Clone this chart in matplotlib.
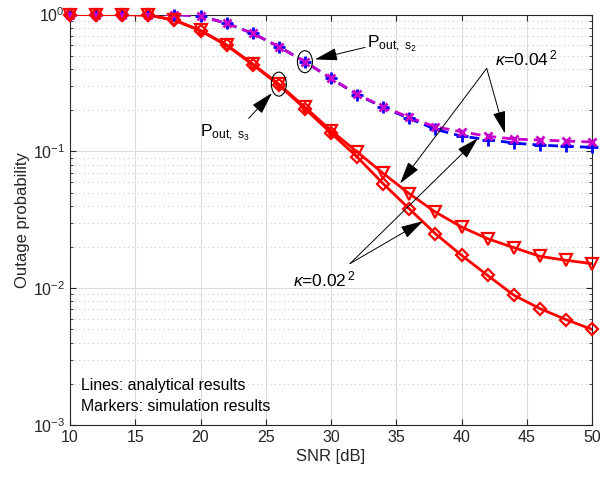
import numpy as np
import matplotlib
matplotlib.use("Agg")
import matplotlib.pyplot as plt
from matplotlib.patches import Ellipse
from matplotlib.transforms import ScaledTranslation
from matplotlib.ticker import LogLocator, FixedLocator, FuncFormatter, NullFormatter

plt.rcParams['font.family'] = ['Liberation Sans', 'DejaVu Sans']
plt.rcParams['mathtext.fontset'] = 'custom'
plt.rcParams['mathtext.rm'] = 'Liberation Sans'
plt.rcParams['mathtext.it'] = 'Liberation Sans:italic'
plt.rcParams['mathtext.bf'] = 'Liberation Sans:bold'

# SNR grid (dB)
snr = [10, 12, 14, 16, 18, 20, 22, 24, 26, 28, 30, 32, 34, 36, 38, 40, 42, 44, 46, 48, 50]

# Outage probability of s3 (solid red)
p_s3_k04 = [1.0, 1.0, 1.0, 0.99, 0.91, 0.765, 0.60, 0.435, 0.31, 0.21, 0.142, 0.099,
            0.069, 0.049, 0.036, 0.028, 0.023, 0.0198, 0.0171, 0.0160, 0.0151]
p_s3_k02 = [1.0, 1.0, 1.0, 0.99, 0.91, 0.76, 0.595, 0.43, 0.305, 0.205, 0.136, 0.091,
            0.058, 0.038, 0.025, 0.0174, 0.0124, 0.0089, 0.0071, 0.0059, 0.0050]

# Outage probability of s2 (dashed)
p_s2_k04 = [1.0, 1.0, 1.0, 1.0, 1.0, 0.975, 0.862, 0.728, 0.582, 0.452, 0.341, 0.261,
            0.212, 0.177, 0.151, 0.139, 0.129, 0.123, 0.121, 0.119, 0.117]
p_s2_k02 = [1.0, 1.0, 1.0, 1.0, 1.0, 0.975, 0.862, 0.728, 0.582, 0.452, 0.341, 0.260,
            0.210, 0.174, 0.145, 0.129, 0.122, 0.115, 0.111, 0.109, 0.107]

x_ticks = [10, 15, 20, 25, 30, 35, 40, 45, 50]

fig = plt.figure(figsize=(6.0, 4.79), dpi=100)
ax = fig.add_axes([0.1167, 0.1127, 0.87, 0.857])
ax.set_yscale('log')

red = '#ff0000'
blue = '#0000ff'
mag = '#c800c8'

# analytical curves
ax.plot(snr, p_s2_k02, color=blue, lw=2.0, ls=(0, (3.5, 2.2)), zorder=3)
ax.plot(snr, p_s2_k04, color=mag, lw=2.0, ls=(0, (3.5, 2.2)), zorder=3)
ax.plot(snr, p_s3_k04, color=red, lw=2.0, zorder=3)
ax.plot(snr, p_s3_k02, color=red, lw=2.0, zorder=3)

# simulation markers
ax.plot(snr, p_s2_k02, ls='none', marker='+', ms=8, mew=2.0, color=blue, zorder=4, clip_on=False)
ax.plot(snr, p_s2_k04, ls='none', marker='x', ms=6, mew=2.0, color=mag, zorder=4, clip_on=False)
ax.plot(snr, p_s3_k04, ls='none', marker='v', ms=9, mew=1.6, mfc='none', mec=red, zorder=5, clip_on=False)
ax.plot(snr, p_s3_k02, ls='none', marker='D', ms=6.5, mew=1.6, mfc='none', mec=red, zorder=5, clip_on=False)

ax.set_xlim(10, 50)
ax.set_ylim(1e-3, 1)
ax.xaxis.set_major_locator(FixedLocator(x_ticks))
ax.yaxis.set_major_locator(LogLocator(base=10, numticks=10))
ax.yaxis.set_minor_locator(LogLocator(base=10, subs=np.arange(2, 10), numticks=20))
ax.yaxis.set_minor_formatter(NullFormatter())
ax.yaxis.set_major_formatter(FuncFormatter(lambda v, p: r'$10^{%d}$' % int(round(np.log10(v)))))

dark = '#262626'
ax.grid(True, which='major', color='#dcdcdc', lw=0.8, ls='-', zorder=0)
ax.grid(True, which='minor', axis='y', color='#c8c8c8', lw=0.8, ls=(0, (1, 3)), zorder=0)
ax.set_axisbelow(True)
ax.tick_params(which='both', direction='in', top=True, right=True, colors=dark, labelsize=11.5)
ax.tick_params(which='major', length=4.5, width=0.8)
ax.tick_params(which='minor', length=2.5, width=0.6)
for s in ax.spines.values():
    s.set_color(dark)
    s.set_linewidth(0.8)

ax.set_xlabel('SNR [dB]', fontsize=12, color=dark, labelpad=3)
ax.set_ylabel('Outage probability', fontsize=12, color=dark, labelpad=2)

# ellipses marking the two outage curves
def ring(xd, yd, w, h):
    tr = fig.dpi_scale_trans + ScaledTranslation(xd, yd, ax.transData)
    ax.add_patch(Ellipse((0, 0), w, h, transform=tr, fill=False, ec='k', lw=0.8, zorder=6))

i26 = snr.index(26)
i28 = snr.index(28)
ring(26, p_s3_k04[i26], 0.15, 0.24)
ring(28, p_s2_k04[i28], 0.15, 0.22)

arrow = dict(arrowstyle='-|>,head_length=1.0,head_width=0.28', color='k', lw=0.7,
             shrinkA=0, shrinkB=0, mutation_scale=14)

ax.annotate('', xy=(28.77, 0.47), xytext=(32.61, 0.575), arrowprops=arrow, zorder=7)
ax.text(32.74, 0.578, r'$\mathrm{P}_{\mathrm{out,\ s}_2}$', fontsize=12.5, va='baseline', ha='left')

ax.annotate('', xy=(25.48, 0.267), xytext=(23.69, 0.174), arrowprops=arrow, zorder=7)
ax.text(19.96, 0.1277, r'$\mathrm{P}_{\mathrm{out,\ s}_3}$', fontsize=12.5, va='baseline', ha='left')

ax.annotate('', xy=(35.29, 0.0582), xytext=(41.93, 0.404), arrowprops=arrow, zorder=7)
ax.annotate('', xy=(43.33, 0.135), xytext=(41.93, 0.404), arrowprops=arrow, zorder=7)
ax.text(42.57, 0.427, r'$\kappa$=0.04$^{\,2}$', fontsize=12.5, va='baseline', ha='left')

ax.annotate('', xy=(37.05, 0.0309), xytext=(31.46, 0.01513), arrowprops=arrow, zorder=7)
ax.annotate('', xy=(41.26, 0.1249), xytext=(31.46, 0.01513), arrowprops=arrow, zorder=7)
ax.text(27.11, 0.01033, r'$\kappa$=0.02$^{\,2}$', fontsize=12.5, va='baseline', ha='left')

ax.text(0.021, 0.085, 'Lines: analytical results', transform=ax.transAxes,
        fontsize=11.4, va='baseline', ha='left', color='k')
ax.text(0.021, 0.035, 'Markers: simulation results', transform=ax.transAxes,
        fontsize=11.4, va='baseline', ha='left', color='k')

fig.savefig('out.png', dpi=100)
